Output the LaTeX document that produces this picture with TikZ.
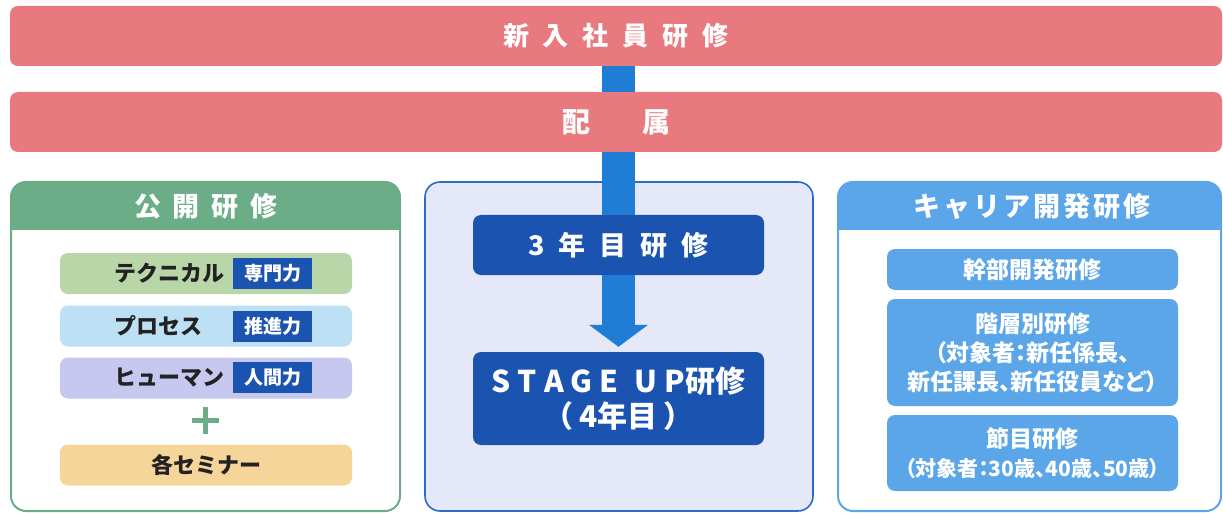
\documentclass[tikz,border=0pt]{standalone}
\usepackage{fontspec}
\setmainfont{Noto Sans CJK JP}
\newfontfamily\jpp{Noto Sans CJK JP}[RawFeature={+palt}]
\usetikzlibrary{arrows.meta}
\definecolor{barred}{HTML}{E8797E}
\definecolor{connblue}{HTML}{1F7DD6}
\definecolor{darkblue}{HTML}{1A53B0}
\definecolor{panelfill}{HTML}{E5E8F8}
\definecolor{panelline}{HTML}{2C6BC6}
\definecolor{grn}{HTML}{6AAD87}
\definecolor{lgreen}{HTML}{B9D6A8}
\definecolor{lblue}{HTML}{BDE0F5}
\definecolor{lav}{HTML}{C7C8EF}
\definecolor{orng}{HTML}{F6D59B}
\definecolor{rblue}{HTML}{5BA6E8}
\definecolor{txt}{HTML}{222222}
\newcommand\gp[1]{\hspace{#1pt}}
\tikzset{
  bar/.style={fill=barred, rounded corners=8pt, minimum width=1212pt, minimum height=60pt, text=white, inner sep=0pt},
  shaft/.style={draw=connblue, line width=33pt},
  dbox/.style={fill=darkblue, rounded corners=8pt, minimum width=291pt, text=white, inner sep=0pt, align=center},
  lbox/.style={rounded corners=8pt, minimum width=292pt, minimum height=41pt, inner sep=0pt, text=txt, font=\bfseries\fontsize{22}{24}\selectfont},
  tag/.style={fill=darkblue, minimum width=79pt, minimum height=31pt, inner sep=0pt, text=white, font=\bfseries\fontsize{19}{20}\selectfont},
  ltext/.style={anchor=west, inner sep=0pt, text=txt, font=\bfseries\fontsize{22}{24}\selectfont},
  rbox/.style={fill=rblue, rounded corners=8pt, minimum width=291pt, inner sep=0pt, text=white, align=center, font=\jpp\bfseries\fontsize{23}{29}\selectfont},
  head/.style={text=white, inner sep=0pt, font=\bfseries\fontsize{27}{30}\selectfont},
}
\begin{document}
\begin{tikzpicture}[x=1pt,y=-1pt]
\useasboundingbox (0,0) rectangle (1223,513);
% bars
\node[bar, font=\bfseries\fontsize{26}{28}\selectfont] (b1) at (616,36) {新\gp{14}入\gp{14}社\gp{14}員\gp{14}研\gp{14}修};
\node[bar, font=\bfseries\fontsize{28}{30}\selectfont] (b2) at (616,122) {配\gp{52}属};
% left panel
\begin{scope}
\clip[rounded corners=15pt] (11,182) rectangle (400,511);
\fill[white] (11,182) rectangle (400,511);
\fill[grn] (11,182) rectangle (400,230);
\end{scope}
\draw[grn, line width=2pt, rounded corners=15pt] (11,182) rectangle (400,511);
\node[head] (lh) at (206,206) {公\gp{12}開\gp{12}研\gp{12}修};
\node[lbox, fill=lgreen] (t1) at (206,273.5) {};
\node[ltext] (t1t) at (114,273.5) {テクニカル};
\node[tag] (t1g) at (272.5,273) {専門力};
\node[lbox, fill=lblue] (t2) at (206,326) {};
\node[ltext] (t2t) at (114,326) {プロセス};
\node[tag] (t2g) at (272.5,326) {推進力};
\node[lbox, fill=lav] (t3) at (206,378) {};
\node[ltext] (t3t) at (114,378) {ヒューマン};
\node[tag] (t3g) at (272.5,377.5) {人間力};
\fill[grn] (192,418) rectangle (219,423);
\fill[grn] (203,407) rectangle (208,434);
\node[lbox, fill=orng] (t4) at (206,465) {各セミナー};
% center panel
\draw[panelline, fill=panelfill, line width=1.6pt, rounded corners=15pt] (425,182) rectangle (813,511);
\node[dbox, minimum height=60pt, font=\bfseries\fontsize{27}{30}\selectfont] (y3) at (618.5,245) {3\gp{14}年\gp{14}目\gp{14}研\gp{14}修};
\draw[shaft] (b1.south -| y3.north) -- (b2.north -| y3.north);
\draw[shaft] (b2.south -| y3.north) -- (y3.north);
\node[dbox, minimum height=93pt, font=\bfseries\fontsize{30}{35}\selectfont] (st) at (618.5,398.5) {S\gp{7}T\gp{7}A\gp{7}G\gp{7}E\gp{16}U\gp{7}P研修\\（\gp{6}4年目\gp{6}）};
\draw[connblue, line width=33pt, -{Triangle[width=58pt,length=22pt]}, shorten >=5pt] (y3.south) -- (st.north);
% right panel
\begin{scope}
\clip[rounded corners=15pt] (838,182) rectangle (1221,511);
\fill[white] (838,182) rectangle (1221,511);
\fill[rblue] (838,182) rectangle (1221,230);
\end{scope}
\draw[rblue, line width=2pt, rounded corners=15pt] (838,182) rectangle (1221,511);
\node[head] (rh) at (1032,206) {キ\gp{3}ャ\gp{3}リ\gp{3}ア\gp{3}開\gp{3}発\gp{3}研\gp{3}修};
\node[rbox, minimum height=41pt] (r1) at (1032.5,269.5) {幹部開発研修};
\node[rbox, minimum height=107pt] (r2) at (1032.5,352.5) {階層別研修\\（対象者：新任係長、\\新任課長、新任役員など）};
\node[rbox, minimum height=76pt] (r3) at (1032.5,453) {節目研修\\{\fontsize{21}{29}\selectfont（対象者：30歳、40歳、50歳）}};
\end{tikzpicture}
\end{document}
